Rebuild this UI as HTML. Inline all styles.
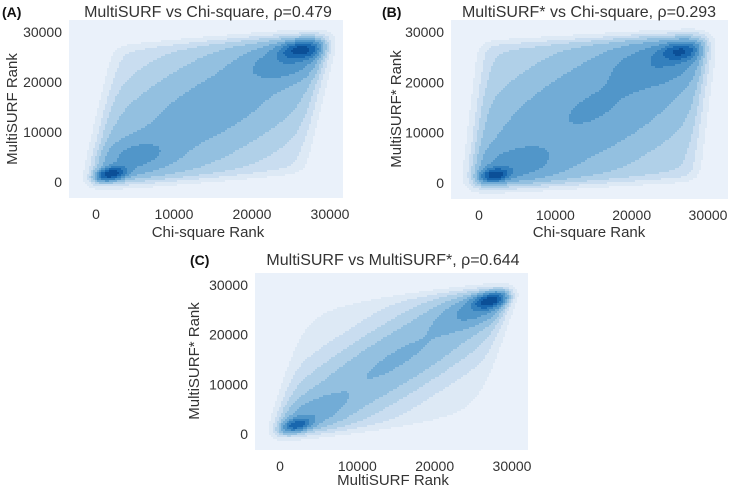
<!DOCTYPE html>
<html><head><meta charset="utf-8"><style>
body{margin:0;background:#fff;width:729px;height:490px;overflow:hidden}
svg{display:block;font-family:"Liberation Sans",sans-serif}
</style></head><body>
<svg id="fig" width="729" height="490"></svg>
<script>
// Tick values
const tickValues = [0, 10000, 20000, 30000];
const tickLabels = ["0", "10000", "20000", "30000"];
// Panel titles & labels
const panelLetters = ["(A)", "(B)", "(C)"];
const panelTitles = ["MultiSURF vs Chi-square,  \u03c1=0.479", "MultiSURF* vs Chi-square,  \u03c1=0.293", "MultiSURF vs MultiSURF*, \u03c1=0.644"];
const xLabels = ["Chi-square Rank", "Chi-square Rank", "MultiSURF Rank"];
const yLabels = ["MultiSURF Rank", "MultiSURF* Rank", "MultiSURF* Rank"];
// Gaussian bumps per panel: [cx, cy, sx, sy, rho, height]
const compsA = [[1800,1500,1300,900,0.3,0.75],[5000,5000,3200,2500,0.3,0.15],[26500,26500,1800,1200,0.2,0.55],[24500,24000,3500,2500,0.3,0.18],[15000,15000,9000,9000,0.6,0.1]];
const compsB = [[2000,1500,1200,900,0.2,0.7],[4500,3500,3500,2500,0.2,0.16],[26500,26200,1700,1200,0.2,0.5],[24000,24000,3800,2800,0.2,0.18],[15000,15000,9000,9000,0.6,0.15]];
const compsC = [[2000,1700,1300,1000,0.4,0.7],[4000,4000,3000,2500,0.5,0.15],[27500,27000,1500,1100,0.4,1.0],[25500,25000,3000,2300,0.5,0.25],[15000,15000,9000,9000,0.85,0.14]];
// Soft parallelogram background per panel: [shearX, shearY, uMin, uMax, vMin, vMax, diagSd, base, height]
const boxA = [0.11,0.09,-500,26300,-500,26900,14000,0.25,0.12];
const boxB = [0.05,0.06,-800,28200,-800,27600,15000,0.45,0.16];
const boxC = [0.12,0.12,-500,26000,-500,26000,9000,0.12,0.14];
const levelFractions = [0.025,0.06,0.1,0.15,0.22,0.32,0.45,0.6,0.8];
const levelColors = ["#dde9f5","#c9ddf0","#b0d0e8","#93c0e0","#72acd6","#5196c9","#3480bd","#1967ae","#0b4f97"];

const panels = [
 {comps:compsA, box:boxA, area:[69,20,343,198], x0:96, x30:330, y0:182, y30:32, title:[208,12], letter:[2,12], xl:[208,237], yl:[17,109]},
 {comps:compsB, box:boxB, area:[451,20,728,199], x0:479, x30:708, y0:183, y30:32, title:[589,12], letter:[382,12], xl:[589,237], yl:[401,109]},
 {comps:compsC, box:boxC, area:[255,273,528,450], x0:280, x30:512, y0:434, y30:285, title:[393,260], letter:[190,260], xl:[393,485], yl:[199,361]}
];
const NS="http://www.w3.org/2000/svg";
const fig=document.getElementById('fig');
function mk(tag,attrs,parent){const e=document.createElementNS(NS,tag);for(const k in attrs)e.setAttribute(k,attrs[k]);(parent||fig).appendChild(e);return e;}
function sig(t){return 1/(1+Math.exp(-t));}
function dens(comps,b,x,y){let s=0;for(const c of comps){const dx=(x-c[0])/c[2],dy=(y-c[1])/c[3],r=c[4];
 const q=(dx*dx-2*r*dx*dy+dy*dy)/(1-r*r);s+=c[5]*Math.exp(-q/2);}
 const u=x-b[0]*y, v=y-b[1]*x, sc=700;
 const e=sig((u-b[2])/sc)*sig((b[3]-u)/sc)*sig((v-b[4])/sc)*sig((b[5]-v)/sc);
 const d=y-x;
 s+=b[8]*(b[7]+(1-b[7])*Math.exp(-d*d/(2*b[6]*b[6])));
 return s*e;}
panels.forEach((p,i)=>{
 const g=mk('g',{});
 
 
 const [ax0,ay0,ax1,ay1]=p.area;
 const bg=mk('rect',{x:ax0,y:ay0,width:ax1-ax0,height:ay1-ay0,fill:'#eaf1fa'},g);
 
 
 const xs=v=>p.x0+v/30000*(p.x30-p.x0), ys=v=>p.y0+v/30000*(p.y30-p.y0);
 const xinv=px=>(px-p.x0)/(p.x30-p.x0)*30000, yinv=py=>(py-p.y0)/(p.y30-p.y0)*30000;
 const cs=2, grid=[];let mx=0;
 for(let py=ay0;py<ay1;py+=cs){const row=[];for(let px=ax0;px<ax1;px+=cs){const d=dens(p.comps,p.box,xinv(px+cs/2),yinv(py+cs/2));row.push(d);if(d>mx)mx=d;}grid.push(row);}
 const cg=mk('g',{'shape-rendering':'crispEdges'},g);
 
 
 grid.forEach((row,ri)=>{let start=0,cur=-1;
  for(let ci=0;ci<=row.length;ci++){let lv=-1;if(ci<row.length){const f=row[ci]/mx;for(let k=0;k<levelFractions.length;k++)if(f>=levelFractions[k])lv=k;}
   if(lv!==cur||ci===row.length){if(cur>=0){mk('rect',{x:ax0+start*cs,y:ay0+ri*cs,width:(ci-start)*cs,height:cs,fill:levelColors[cur]},cg);}cur=lv;start=ci;}}
 });
 tickValues.forEach((v,k)=>{
  const t=mk('text',{x:xs(v),y:ay1+21,'text-anchor':'middle','font-size':14,fill:'#333'},g);t.textContent=tickLabels[k];
  
  
  const u=mk('text',{x:ax0-7,y:ys(v)+5,'text-anchor':'end','font-size':14,fill:'#333'},g);u.textContent=tickLabels[k];
  
  
 });
 const ti=mk('text',{x:p.title[0],y:p.title[1]+5,'text-anchor':'middle','font-size':16,fill:'#333'},g);ti.textContent=panelTitles[i];
 
 
 const le=mk('text',{x:p.letter[0],y:p.letter[1]+5,'font-size':14,'font-weight':'bold',fill:'#111'},g);le.textContent=panelLetters[i];
 
 
 const xl=mk('text',{x:p.xl[0],y:p.xl[1],'text-anchor':'middle','font-size':15,fill:'#333'},g);xl.textContent=xLabels[i];
 
 
 const yl=mk('text',{x:p.yl[0],y:p.yl[1],'text-anchor':'middle','font-size':15,fill:'#333',transform:`rotate(-90 ${p.yl[0]} ${p.yl[1]})`},g);yl.textContent=yLabels[i];
 
 
});
</script>
</body></html>
